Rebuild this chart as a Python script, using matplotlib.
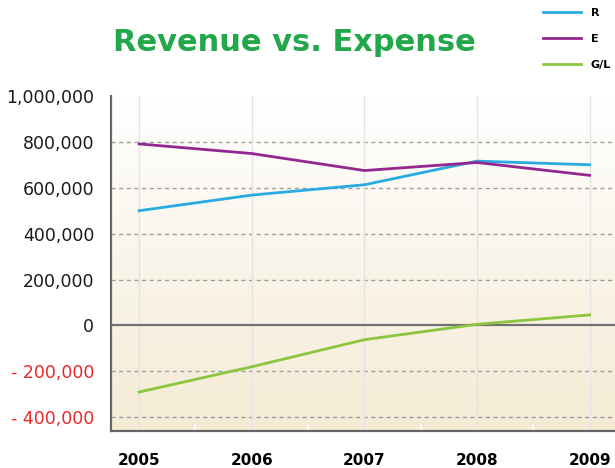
import numpy as np
import matplotlib.pyplot as plt
from matplotlib.lines import Line2D
from matplotlib.colors import LinearSegmentedColormap

years = [2005, 2006, 2007, 2008, 2009]
revenue = [500000, 568000, 613000, 716000, 700000]
expense = [791000, 749000, 675000, 710000, 654000]
gain_loss = [-290000, -180000, -62000, 5000, 46000]
y_ticks = [-400000, -200000, 0, 200000, 400000, 600000, 800000, 1000000]

fig = plt.figure(figsize=(6.15, 4.68), dpi=100)
ax = fig.add_axes([0.1805, 0.079, 0.8195, 0.716])

x_lo, x_hi = 2004.75, 2009.225
y_lo, y_hi = -460000, 1000000

# background gradient, white at top to beige at bottom
grad = LinearSegmentedColormap.from_list("bg", ["#ffffff", "#f5ebd5"])
ax.imshow(np.linspace(0, 1, 256).reshape(-1, 1), cmap=grad, aspect="auto",
          extent=[x_lo, x_hi, y_lo, y_hi], origin="upper", zorder=0)

# grid
for t in y_ticks:
    if t != 0 and t != 1000000:
        ax.axhline(t, color="#a0a0a0", lw=1, ls=(0, (3, 2.5)), zorder=1)
for x in years:
    ax.axvline(x, color="#e4e4e4", lw=1, zorder=1)
ax.axhline(0, color="#707070", lw=1.6, zorder=2)

ax.plot(years, revenue, color="#29abe2", lw=2, zorder=3, label="R")
ax.plot(years, expense, color="#93278f", lw=2, zorder=3, label="E")
ax.plot(years, gain_loss, color="#8cc63f", lw=2, zorder=3, label="G/L")

ax.set_xlim(x_lo, x_hi)
ax.set_ylim(y_lo, y_hi)

for s in ["top", "right"]:
    ax.spines[s].set_visible(False)
for s in ["left", "bottom"]:
    ax.spines[s].set_color("#666666")
    ax.spines[s].set_linewidth(1.6)

ax.set_xticks(years)
ax.set_xticklabels([str(y) for y in years], fontsize=11, fontweight="bold")
ax.set_xticks([y + 0.5 for y in years[:-1]], minor=True)
ax.tick_params(axis="x", which="major", length=0, pad=16)
ax.tick_params(axis="x", which="minor", direction="in", length=5, color="white", width=1.5)

ax.set_yticks(y_ticks)
labels = []
for t in y_ticks:
    if t < 0:
        labels.append("- " + f"{-t:,}")
    else:
        labels.append(f"{t:,}")
ax.set_yticklabels(labels, fontsize=12.5)
ax.tick_params(axis="y", length=0, pad=12)
for lab, t in zip(ax.get_yticklabels(), y_ticks):
    lab.set_color("#e8282b" if t < 0 else "#1a1a1a")

fig.text(0.478, 0.91, "Revenue vs. Expense", ha="center", va="center",
         fontsize=22, fontweight="bold", color="#22a84a")

handles = [Line2D([], [], color="#29abe2", lw=2),
           Line2D([], [], color="#93278f", lw=2),
           Line2D([], [], color="#8cc63f", lw=2)]
fig.legend(handles, ["R", "E", "G/L"], loc="upper right", bbox_to_anchor=(1.01, 1.005),
           frameon=False, handlelength=3.4, labelspacing=1.45, handletextpad=0.9,
           prop={"size": 8, "weight": "bold"})

fig.savefig("out.png", dpi=100)
